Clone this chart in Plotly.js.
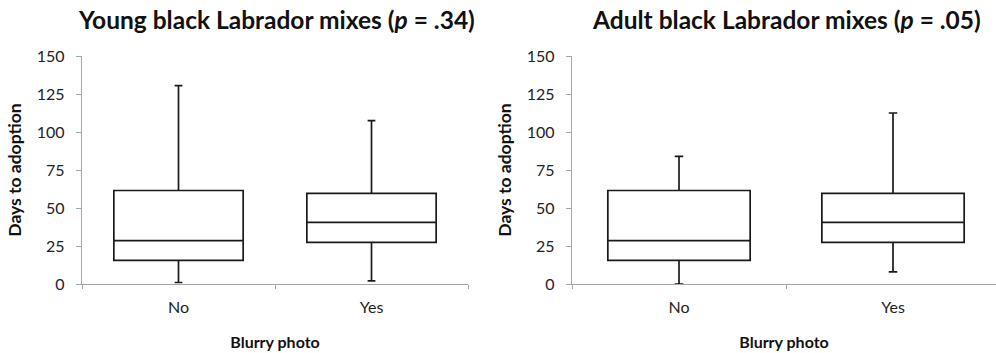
<!DOCTYPE html>
<html><head><meta charset="utf-8">
<script src="https://cdn.plot.ly/plotly-3.0.1.min.js"></script>
<style>html,body{margin:0;padding:0;background:#fff}#chart{width:996px;height:353px}</style>
</head><body><div id="chart"></div>
<script>
var categories = ['No', 'Yes'];
// Young black Labrador mixes
var youngQ1 = [15.6, 27.4];
var youngMedian = [28.5, 40.6];
var youngQ3 = [61.5, 59.6];
var youngLower = [1, 2];
var youngUpper = [130.5, 107.5];
// Adult black Labrador mixes
var adultQ1 = [15.6, 27.4];
var adultMedian = [28.5, 40.6];
var adultQ3 = [61.5, 59.6];
var adultLower = [0, 8];
var adultUpper = [84, 112.5];
var titles = ['Young black Labrador mixes (<i>p</i> = .34)', 'Adult black Labrador mixes (<i>p</i> = .05)'];
var yTicks = [0, 25, 50, 75, 100, 125, 150];

var FONT = 'Lato, "Open Sans", sans-serif';
var boxStyle = {fillcolor: '#ffffff', line: {color: '#1a1a1a', width: 1.7}, whiskerwidth: 0.06, boxpoints: false, showlegend: false, hoverinfo: 'skip'};

var t1 = Object.assign({type: 'box', x: categories, q1: youngQ1, median: youngMedian, q3: youngQ3,
  lowerfence: youngLower, upperfence: youngUpper, width: 0.67, xaxis: 'x', yaxis: 'y'}, boxStyle);
var t2 = Object.assign({type: 'box', x: categories, q1: adultQ1, median: adultMedian, q3: adultQ3,
  lowerfence: adultLower, upperfence: adultUpper, width: 0.665, xaxis: 'x2', yaxis: 'y2'}, boxStyle);

function xax(domain, range) {
  return {domain: domain, type: 'category', range: range, showline: true, linecolor: '#a6a6a6', linewidth: 1.3,
    ticks: 'outside', tickson: 'boundaries', ticklen: 4, tickcolor: '#a6a6a6', showgrid: false, zeroline: false,
    tickfont: {family: FONT, size: 16, color: '#222'}, ticklabelstandoff: 8,
    title: {text: '<b>Blurry photo</b>', font: {family: FONT, size: 16, color: '#111'}, standoff: 22}};
}
function yax(anchor) {
  return {anchor: anchor, domain: [0, 1], range: [0, 150], tickvals: yTicks, showline: true, linecolor: '#a6a6a6', linewidth: 1.3,
    ticks: 'outside', ticklen: 5, tickcolor: '#a6a6a6', showgrid: false, zeroline: false,
    tickfont: {family: FONT, size: 16, color: '#222'}, ticklabelstandoff: 8,
    title: {text: '<b>Days to adoption</b>', font: {family: FONT, size: 17.5, color: '#111'}, standoff: 10}};
}

var layout = {
  width: 996, height: 353,
  margin: {l: 0, r: 0, t: 56, b: 69},
  paper_bgcolor: '#fff', plot_bgcolor: '#fff',
  xaxis: Object.assign(xax([82/996, 468/996], [-0.5, 1.5]), {anchor: 'y'}),
  yaxis: yax('x'),
  xaxis2: Object.assign(xax([572/996, 1], [-0.5, 1.5 - 4/213]), {anchor: 'y2'}),
  yaxis2: yax('x2'),
  annotations: [
    {text: '<b>' + titles[0] + '</b>', xref: 'paper', yref: 'paper', x: 276/996, y: 1, yshift: 37, xanchor: 'center', yanchor: 'middle', showarrow: false, font: {family: FONT, size: 24.5, color: '#111'}},
    {text: '<b>' + titles[1] + '</b>', xref: 'paper', yref: 'paper', x: 786/996, y: 1, yshift: 37, xanchor: 'center', yanchor: 'middle', showarrow: false, font: {family: FONT, size: 24.5, color: '#111'}}
  ]
};
Plotly.newPlot('chart', [t1, t2], layout, {displayModeBar: false, staticPlot: true});
</script></body></html>
